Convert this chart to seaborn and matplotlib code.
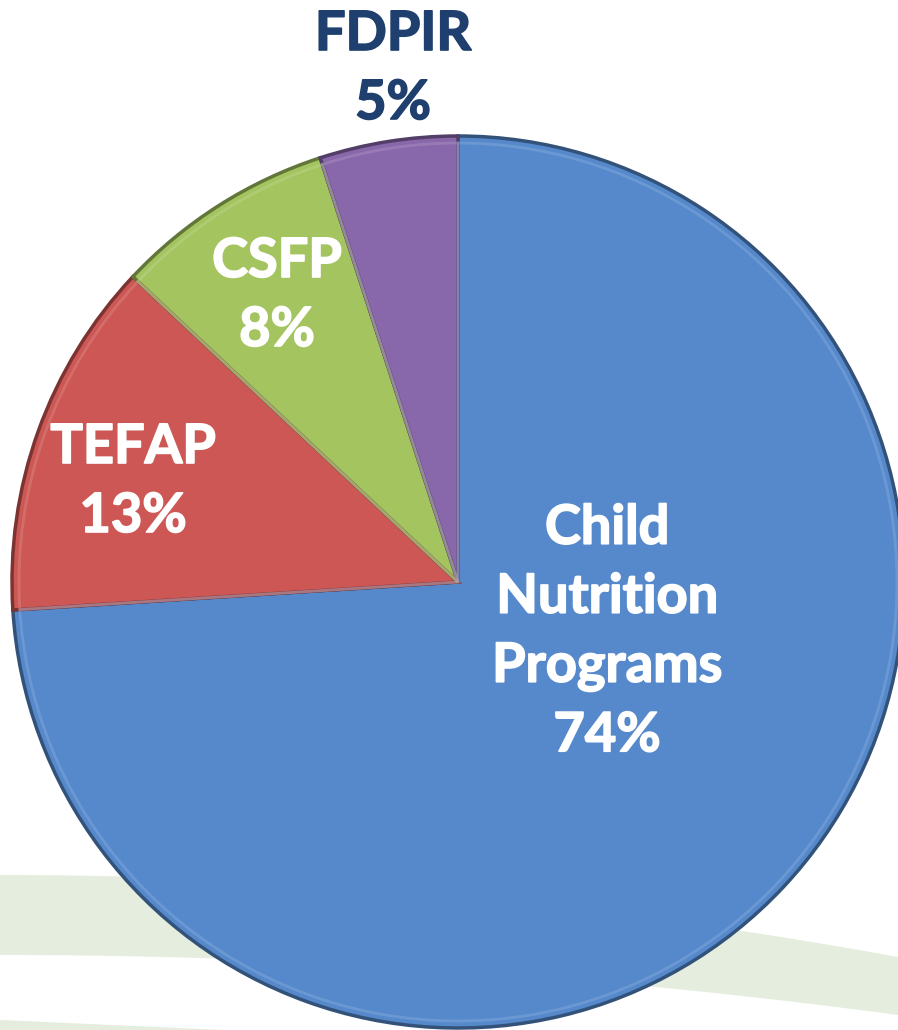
import matplotlib
matplotlib.use("Agg")
import matplotlib.pyplot as plt
import matplotlib.colors as mcolors
import matplotlib.patheffects as pe
import numpy as np
import seaborn as sns

# ---------------------------------
# Data
# ---------------------------------

programs = ["Child\nNutrition\nPrograms", "TEFAP", "CSFP", "FDPIR"]
shares = [74, 13, 8, 5]
colors = ["#5589CB", "#CD5754", "#A3C45F", "#8867AA"]

W, H = 898, 1030

sns.set_style("white")
plt.rcParams["font.family"] = ["Lato", "DejaVu Sans"]

fig = plt.figure(figsize=(W / 100, H / 100), dpi=100)
ax = fig.add_axes([0, 0, 1, 1])


def py(y):
    return H - y


# ---------------------------------
# Background swooshes
# ---------------------------------

xs = np.linspace(0, W, 200)
top = 875 + 82 * (xs / W) ** 2
bot = 955 + 60 * (xs / W) ** 2
ax.fill_between(xs, py(top), py(bot), color="#E5EDDF", zorder=0, lw=0)
ax.fill_between(xs, py(1020 + 40 * (xs / W)), py(1040), color="#E5EDDF", zorder=0, lw=0)

# ---------------------------------
# Pie
# ---------------------------------

center = (458, py(582))
radius = 446

dark = [tuple(c * 0.6 for c in mcolors.to_rgb(col)) for col in colors]
light = [tuple(c + (1 - c) * 0.3 for c in mcolors.to_rgb(col)) for col in colors]

wedges, _ = ax.pie(
    shares,
    colors=colors,
    startangle=90,
    counterclock=False,
    center=center,
    radius=radius,
    wedgeprops=dict(linewidth=0),
    frame=True,
)
for w, d in zip(wedges, dark):
    w.set_edgecolor(d)
    w.set_linewidth(2.5)
    w.set_zorder(2)

inner, _ = ax.pie(
    shares,
    colors=["none"] * 4,
    startangle=90,
    counterclock=False,
    center=center,
    radius=radius - 7,
    wedgeprops=dict(linewidth=2.0, fill=False),
    frame=True,
)
for w, l in zip(inner, light):
    w.set_edgecolor(l)
    w.set_alpha(0.45)
    w.set_zorder(3)

ax.set_xlim(0, W)
ax.set_ylim(0, H)
ax.set_aspect("equal")
ax.axis("off")

# ---------------------------------
# Labels
# ---------------------------------

fs = 39
spacing = 1.5


def label(x, y, text, color):
    ax.text(x, py(y), text, color=color, fontsize=fs, fontweight="bold",
            ha="center", va="center", linespacing=spacing, zorder=5,
            path_effects=[pe.withStroke(linewidth=1.2, foreground=color)])


label(607, 632, f"{programs[0]}\n{shares[0]}%", "white")
label(133, 482, f"{programs[1]}\n{shares[1]}%", "white")
label(277, 296, f"{programs[2]}\n{shares[2]}%", "white")
label(393, 69, f"{programs[3]}\n{shares[3]}%", "#1F3F6E")

fig.savefig("out.png", dpi=100)
plt.close(fig)
